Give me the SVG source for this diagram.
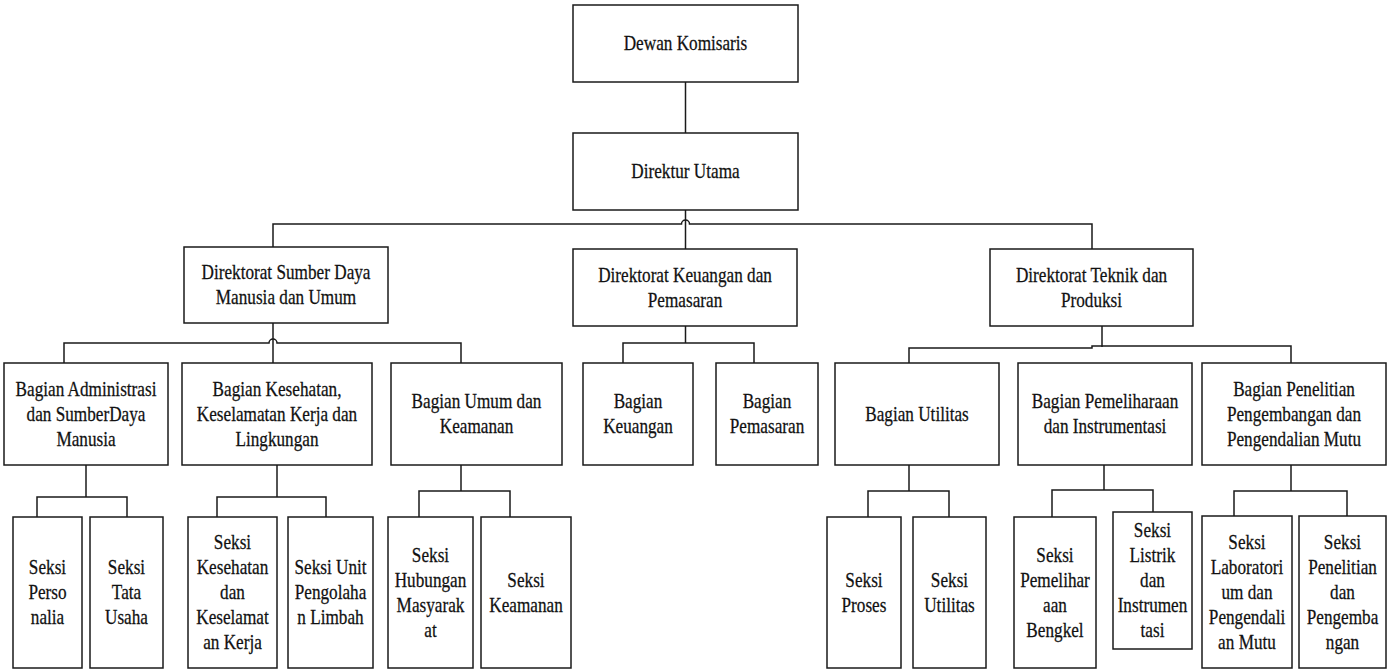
<svg xmlns="http://www.w3.org/2000/svg" width="1392" height="670" viewBox="0 0 1392 670">
<style>
.b{fill:#fff;stroke:#1a1a1a;stroke-width:1.5}
.c{fill:none;stroke:#1a1a1a;stroke-width:1.5}
.t{font-family:'Liberation Serif','Times New Roman',Times,serif;font-size:20px;fill:#111;stroke:#111;stroke-width:0.25;text-anchor:middle}
</style>
<rect width="1392" height="670" fill="#fff"/>
<g id="connectors">
<path class="c" d="M685.5,82 V133"/>
<path class="c" d="M685.5,210 V249"/>
<path class="c" d="M273,247 V224 H681.5 A4,4 0 0 1 689.5,224 H1092 V249"/>
<path class="c" d="M273,323 V363"/>
<path class="c" d="M64,363 V343 H269 A4,4 0 0 1 277,343 H461 V363"/>
<path class="c" d="M685.5,326 V343"/>
<path class="c" d="M623,363 V343 H754 V363"/>
<path class="c" d="M1102,326 V347"/>
<path class="c" d="M909,363 V348 H1092 V346 H1291 V363"/>
<path class="c" d="M86,465 V497"/>
<path class="c" d="M37,517 V497 H127 V517"/>
<path class="c" d="M277,465 V497"/>
<path class="c" d="M217,517 V497 H326 V517"/>
<path class="c" d="M461,465 V491"/>
<path class="c" d="M419,517 V491 H510 V517"/>
<path class="c" d="M909,465 V491"/>
<path class="c" d="M868,517 V491 H949 V517"/>
<path class="c" d="M1104,465 V490"/>
<path class="c" d="M1052,517 V490 H1153 V512"/>
<path class="c" d="M1291,465 V491"/>
<path class="c" d="M1234,516 V491 H1347 V516"/>
</g>
<g id="dewan-komisaris"><rect class="b" x="573" y="5" width="225" height="77"/>
<text class="t" transform="translate(685.5 0) scale(0.86 1)"><tspan x="0" y="50.5">Dewan Komisaris</tspan></text></g>
<g id="direktur-utama"><rect class="b" x="573" y="133" width="225" height="77"/>
<text class="t" transform="translate(685.5 0) scale(0.86 1)"><tspan x="0" y="178.5">Direktur Utama</tspan></text></g>
<g id="dir-sdm"><rect class="b" x="184" y="247" width="204" height="76"/>
<text class="t" transform="translate(286 0) scale(0.86 1)"><tspan x="0" y="279.5">Direktorat Sumber Daya</tspan><tspan x="0" y="304.5">Manusia dan Umum</tspan></text></g>
<g id="dir-keuangan"><rect class="b" x="573" y="249" width="224" height="77"/>
<text class="t" transform="translate(685 0) scale(0.86 1)"><tspan x="0" y="282">Direktorat Keuangan dan</tspan><tspan x="0" y="307">Pemasaran</tspan></text></g>
<g id="dir-teknik"><rect class="b" x="990" y="249" width="203" height="77"/>
<text class="t" transform="translate(1091.5 0) scale(0.86 1)"><tspan x="0" y="282">Direktorat Teknik dan</tspan><tspan x="0" y="307">Produksi</tspan></text></g>
<g id="bag-administrasi"><rect class="b" x="4" y="363" width="164" height="102"/>
<text class="t" transform="translate(86 0) scale(0.86 1)"><tspan x="0" y="396">Bagian Administrasi</tspan><tspan x="0" y="421">dan SumberDaya</tspan><tspan x="0" y="446">Manusia</tspan></text></g>
<g id="bag-k3l"><rect class="b" x="182" y="363" width="190" height="102"/>
<text class="t" transform="translate(277 0) scale(0.86 1)"><tspan x="0" y="396">Bagian Kesehatan,</tspan><tspan x="0" y="421">Keselamatan Kerja dan</tspan><tspan x="0" y="446">Lingkungan</tspan></text></g>
<g id="bag-umum"><rect class="b" x="391" y="363" width="171" height="102"/>
<text class="t" transform="translate(476.5 0) scale(0.86 1)"><tspan x="0" y="408.5">Bagian Umum dan</tspan><tspan x="0" y="433.5">Keamanan</tspan></text></g>
<g id="bag-keuangan"><rect class="b" x="583" y="363" width="110" height="102"/>
<text class="t" transform="translate(638 0) scale(0.86 1)"><tspan x="0" y="408.5">Bagian</tspan><tspan x="0" y="433.5">Keuangan</tspan></text></g>
<g id="bag-pemasaran"><rect class="b" x="716" y="363" width="102" height="102"/>
<text class="t" transform="translate(767 0) scale(0.86 1)"><tspan x="0" y="408.5">Bagian</tspan><tspan x="0" y="433.5">Pemasaran</tspan></text></g>
<g id="bag-utilitas"><rect class="b" x="835" y="363" width="164" height="102"/>
<text class="t" transform="translate(917 0) scale(0.86 1)"><tspan x="0" y="421">Bagian Utilitas</tspan></text></g>
<g id="bag-pemeliharaan"><rect class="b" x="1018" y="363" width="174" height="102"/>
<text class="t" transform="translate(1105 0) scale(0.86 1)"><tspan x="0" y="408.5">Bagian Pemeliharaan</tspan><tspan x="0" y="433.5">dan Instrumentasi</tspan></text></g>
<g id="bag-penelitian"><rect class="b" x="1202" y="363" width="184" height="102"/>
<text class="t" transform="translate(1294 0) scale(0.86 1)"><tspan x="0" y="396">Bagian Penelitian</tspan><tspan x="0" y="421">Pengembangan dan</tspan><tspan x="0" y="446">Pengendalian Mutu</tspan></text></g>
<g id="seksi-personalia"><rect class="b" x="13" y="517" width="69" height="151"/>
<text class="t" transform="translate(47.5 0) scale(0.86 1)"><tspan x="0" y="574.5">Seksi</tspan><tspan x="0" y="599.5">Perso</tspan><tspan x="0" y="624.5">nalia</tspan></text></g>
<g id="seksi-tata-usaha"><rect class="b" x="90" y="517" width="73" height="151"/>
<text class="t" transform="translate(126.5 0) scale(0.86 1)"><tspan x="0" y="574.5">Seksi</tspan><tspan x="0" y="599.5">Tata</tspan><tspan x="0" y="624.5">Usaha</tspan></text></g>
<g id="seksi-k3"><rect class="b" x="188" y="517" width="89" height="151"/>
<text class="t" transform="translate(232.5 0) scale(0.86 1)"><tspan x="0" y="549.5">Seksi</tspan><tspan x="0" y="574.5">Kesehatan</tspan><tspan x="0" y="599.5">dan</tspan><tspan x="0" y="624.5">Keselamat</tspan><tspan x="0" y="649.5">an Kerja</tspan></text></g>
<g id="seksi-limbah"><rect class="b" x="288" y="517" width="85" height="151"/>
<text class="t" transform="translate(330.5 0) scale(0.86 1)"><tspan x="0" y="574.5">Seksi Unit</tspan><tspan x="0" y="599.5">Pengolaha</tspan><tspan x="0" y="624.5">n Limbah</tspan></text></g>
<g id="seksi-humas"><rect class="b" x="388" y="517" width="85" height="151"/>
<text class="t" transform="translate(430.5 0) scale(0.86 1)"><tspan x="0" y="562">Seksi</tspan><tspan x="0" y="587">Hubungan</tspan><tspan x="0" y="612">Masyarak</tspan><tspan x="0" y="637">at</tspan></text></g>
<g id="seksi-keamanan"><rect class="b" x="481" y="517" width="90" height="151"/>
<text class="t" transform="translate(526 0) scale(0.86 1)"><tspan x="0" y="587">Seksi</tspan><tspan x="0" y="612">Keamanan</tspan></text></g>
<g id="seksi-proses"><rect class="b" x="827" y="517" width="74" height="151"/>
<text class="t" transform="translate(864 0) scale(0.86 1)"><tspan x="0" y="587">Seksi</tspan><tspan x="0" y="612">Proses</tspan></text></g>
<g id="seksi-utilitas"><rect class="b" x="913" y="517" width="73" height="151"/>
<text class="t" transform="translate(949.5 0) scale(0.86 1)"><tspan x="0" y="587">Seksi</tspan><tspan x="0" y="612">Utilitas</tspan></text></g>
<g id="seksi-bengkel"><rect class="b" x="1014" y="517" width="82" height="151"/>
<text class="t" transform="translate(1055 0) scale(0.86 1)"><tspan x="0" y="562">Seksi</tspan><tspan x="0" y="587">Pemelihar</tspan><tspan x="0" y="612">aan</tspan><tspan x="0" y="637">Bengkel</tspan></text></g>
<g id="seksi-listrik"><rect class="b" x="1113" y="512" width="79" height="137"/>
<text class="t" transform="translate(1152.5 0) scale(0.86 1)"><tspan x="0" y="537.5">Seksi</tspan><tspan x="0" y="562.5">Listrik</tspan><tspan x="0" y="587.5">dan</tspan><tspan x="0" y="612.5">Instrumen</tspan><tspan x="0" y="637.5">tasi</tspan></text></g>
<g id="seksi-lab"><rect class="b" x="1202" y="516" width="90" height="152"/>
<text class="t" transform="translate(1247 0) scale(0.86 1)"><tspan x="0" y="549">Seksi</tspan><tspan x="0" y="574">Laboratori</tspan><tspan x="0" y="599">um dan</tspan><tspan x="0" y="624">Pengendali</tspan><tspan x="0" y="649">an Mutu</tspan></text></g>
<g id="seksi-litbang"><rect class="b" x="1299" y="516" width="87" height="152"/>
<text class="t" transform="translate(1342.5 0) scale(0.86 1)"><tspan x="0" y="549">Seksi</tspan><tspan x="0" y="574">Penelitian</tspan><tspan x="0" y="599">dan</tspan><tspan x="0" y="624">Pengemba</tspan><tspan x="0" y="649">ngan</tspan></text></g>
</svg>
